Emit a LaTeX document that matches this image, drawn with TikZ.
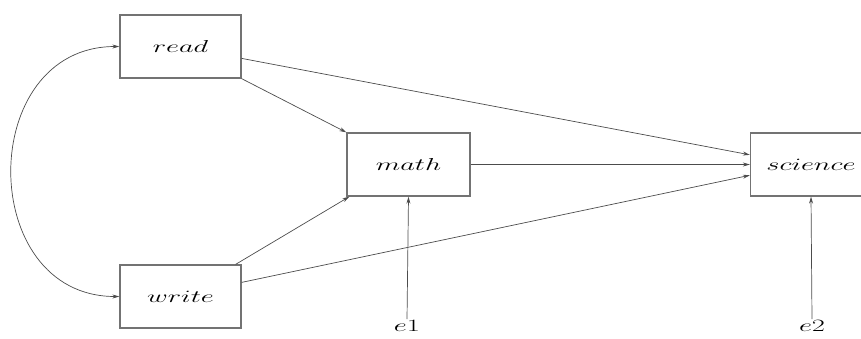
\documentclass[tikz,border=0pt]{standalone}
\usetikzlibrary{arrows.meta,calc}
\newcommand{\wlab}[1]{\scalebox{1.65}[1]{\fontsize{16}{18}\selectfont$#1$}}
\begin{document}
\begin{tikzpicture}[x=1pt,y=-1pt,
  var/.style={draw=black!55,line width=1.3pt,fill=white,minimum width=121pt,minimum height=63pt,inner sep=0pt},
  conn/.style={draw=black!70,line width=0.7pt,-{Stealth[length=7pt,width=4pt]}},
  errlab/.style={inner sep=1pt}]
\useasboundingbox (0,0) rectangle (861,338);
\clip (0,0) rectangle (861,338);
\node[var] (read) at (180.5,46.5) {\wlab{read}};
\node[var] (write) at (180.5,296.5) {\wlab{write}};
\node[var,minimum width=123pt] (math) at (408.5,164.5) {\wlab{math}};
\node[var] (science) at (811,164.5) {\wlab{science}};
\node[errlab] (e1) at (407,326) {\wlab{e1}};
\node[errlab] (e2) at (812,326) {\wlab{e2}};
\draw[draw=black!70,line width=0.7pt,{Stealth[length=7pt,width=4pt]}-{Stealth[length=7pt,width=4pt]}]
  (read.west) .. controls (-24,46.5) and (-24,296.5) .. (write.west);
\draw[conn] (read.south east) -- (math.north west);
\draw[conn] ($(write.north east)+(-6,0)$) -- ($(math.south west)+(3,0)$);
\draw[conn] (read.-11) -- (science.171);
\draw[conn] (math.east) -- (science.west);
\draw[conn] (write.13) -- (science.190);
\draw[conn] (e1.north) -- (math.south);
\draw[conn] (e2.north) -- (science.south);
\end{tikzpicture}
\end{document}
